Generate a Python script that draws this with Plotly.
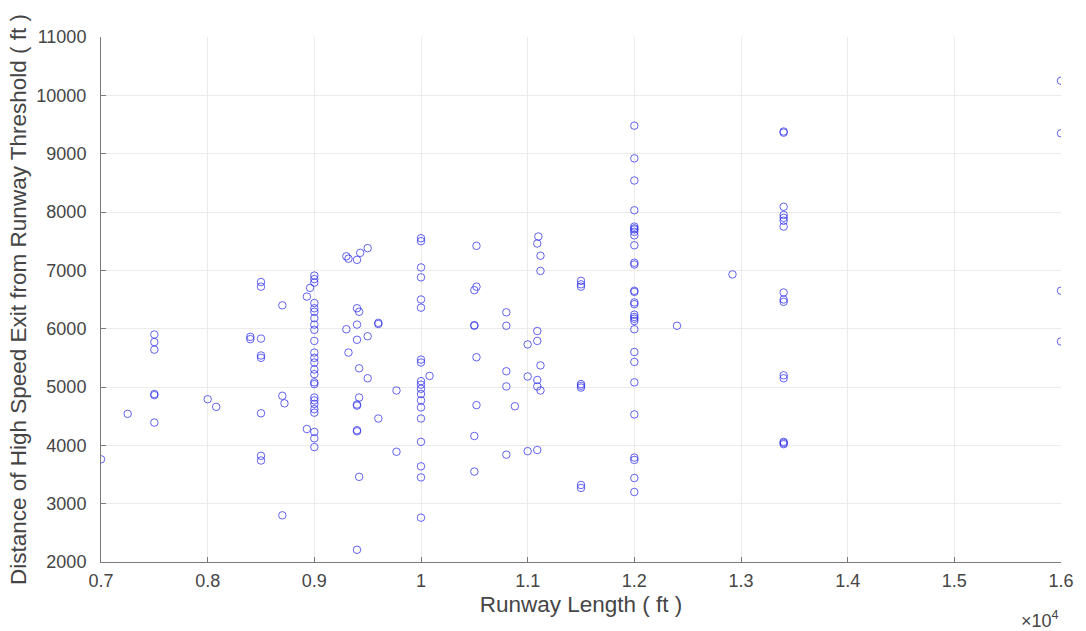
import plotly.graph_objects as go

# ---- data ----
runway_length = (
    [7000] + [7250] + [7500] * 6 + [8000] + [8080] + [8400] * 2 + [8500] * 8
    + [8700] * 3 + [8720] + [8930] * 2 + [8960] + [9000] * 25
    + [9300] * 2 + [9320] * 2 + [9400] * 9 + [9420] * 4 + [9430] + [9500] * 3
    + [9600] * 3 + [9770] * 2 + [10000] * 19 + [10080] + [10500] * 5
    + [10520] * 4 + [10800] * 5 + [10880] + [11000] * 3 + [11090] * 6
    + [11100] + [11120] * 4 + [11500] * 8 + [12000] * 29 + [12400] + [12920]
    + [13400] * 15 + [16000] * 4
)

exit_distance = (
    [3760]
    + [4540]
    + [5900, 5770, 5640, 4880, 4860, 4390]
    + [4790]
    + [4660]
    + [5860, 5820]
    + [6800, 6720, 5830, 5540, 5500, 4550, 3820, 3740]
    + [6400, 4850, 2800]
    + [4720]
    + [6550, 4280]
    + [6700]
    + [6910, 6850, 6790, 6440, 6350, 6290, 6180, 6070, 5980, 5790, 5590, 5500,
       5420, 5300, 5220, 5080, 5050, 4820, 4770, 4710, 4620, 4560, 4230, 4120, 3970]
    + [7240, 5990]
    + [7200, 5590]
    + [7180, 6350, 6070, 5810, 4700, 4680, 4260, 4240, 2210]
    + [6290, 5320, 4820, 3460]
    + [7300]
    + [7380, 5870, 5150]
    + [6100, 6080, 4460]
    + [4940, 3890]
    + [7550, 7500, 7050, 6880, 6500, 6360, 5470, 5420, 5100, 5040, 4970, 4880,
       4770, 4650, 4460, 4060, 3640, 3450, 2760]
    + [5190]
    + [6660, 6060, 6050, 4160, 3550]
    + [6720, 7420, 5510, 4690]
    + [6280, 6050, 5270, 5010, 3840]
    + [4670]
    + [5730, 5180, 3900]
    + [5960, 5790, 5120, 5010, 3920, 7460]
    + [7580]
    + [7250, 6990, 5370, 4940]
    + [6820, 6760, 6720, 5050, 5020, 4990, 3320, 3270]
    + [9480, 8920, 8540, 8030, 7750, 7720, 7700, 7660, 7600, 7430, 7130, 7100,
       6650, 6630, 6450, 6420, 6240, 6200, 6170, 6130, 5990, 5600, 5430, 5080,
       4530, 3790, 3750, 3440, 3200]
    + [6050]
    + [6930]
    + [9380, 9360, 8090, 7950, 7900, 7850, 7750, 6620, 6500, 6460, 5200, 5150,
       4060, 4040, 4020]
    + [10250, 9350, 6650, 5780]
)

x_tick_values = [7000, 8000, 9000, 10000, 11000, 12000, 13000, 14000, 15000, 16000]
x_tick_labels = ["0.7", "0.8", "0.9", "1", "1.1", "1.2", "1.3", "1.4", "1.5", "1.6"]
y_tick_values = [2000, 3000, 4000, 5000, 6000, 7000, 8000, 9000, 10000, 11000]
y_tick_labels = [str(v) for v in y_tick_values]

FONT = "Liberation Sans, Arial, sans-serif"
TEXT = "#454545"
AXIS = "#7a7a7a"
GRID = "#ebebeb"
TICK_SIZE = 18
TITLE_SIZE = 22.5

fig = go.Figure(
    go.Scatter(
        x=runway_length,
        y=exit_distance,
        mode="markers",
        marker=dict(
            symbol="circle-open",
            size=7.5,
            color="rgba(40,40,235,0.72)",
            line=dict(width=1),
        ),
        hoverinfo="x+y",
    )
)

fig.update_layout(
    width=1086,
    height=631,
    margin=dict(l=101, r=20, t=37, b=69),
    paper_bgcolor="white",
    plot_bgcolor="white",
    showlegend=False,
    font=dict(family=FONT, size=TICK_SIZE, color=TEXT),
    xaxis=dict(
        range=[7000, 16000],
        tickvals=x_tick_values,
        ticktext=x_tick_labels,
        showgrid=True,
        gridcolor=GRID,
        gridwidth=1,
        zeroline=False,
        showline=True,
        linecolor=AXIS,
        linewidth=1,
        ticks="inside",
        ticklen=5,
        tickcolor=AXIS,
        ticklabelstandoff=2,
        tickfont=dict(family=FONT, size=TICK_SIZE, color=TEXT),
        title=dict(text="Runway Length ( ft )",
                   font=dict(family=FONT, size=TITLE_SIZE, color=TEXT), standoff=6),
    ),
    yaxis=dict(
        range=[2000, 11000],
        tickvals=y_tick_values,
        ticktext=y_tick_labels,
        showgrid=True,
        gridcolor=GRID,
        gridwidth=1,
        zeroline=False,
        showline=True,
        linecolor=AXIS,
        linewidth=1,
        ticks="inside",
        ticklen=5,
        tickcolor=AXIS,
        ticklabelstandoff=10,
        tickfont=dict(family=FONT, size=TICK_SIZE, color=TEXT),
        title=dict(
            text="Distance of High Speed Exit from Runway Threshold ( ft )",
            font=dict(family=FONT, size=TITLE_SIZE, color=TEXT),
            standoff=3,
        ),
    ),
    annotations=[
        dict(
            text="\u00d710<sup>4</sup>",
            xref="paper",
            yref="paper",
            x=1.0,
            y=0,
            xanchor="right",
            yanchor="top",
            yshift=-44,
            xshift=0,
            showarrow=False,
            font=dict(family=FONT, size=18, color=TEXT),
        )
    ],
)

fig.write_html("out.html")
